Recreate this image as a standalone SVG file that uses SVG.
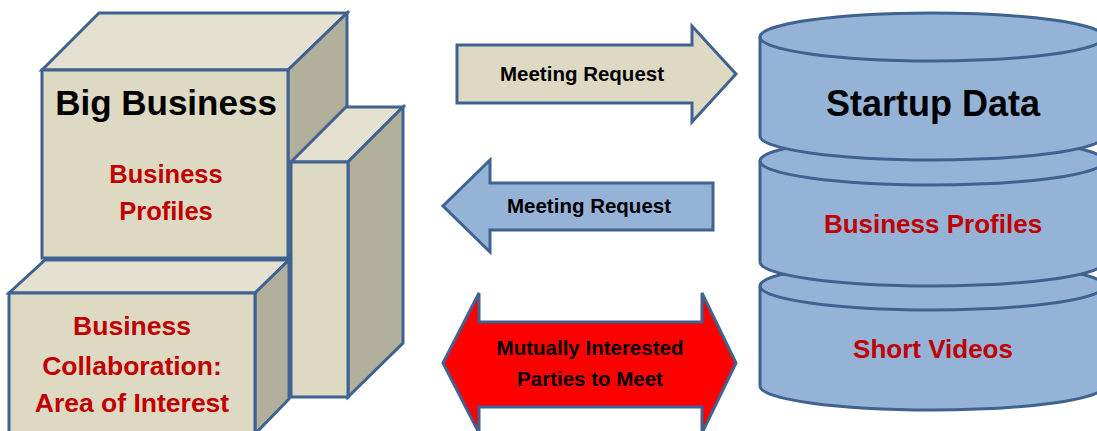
<svg xmlns="http://www.w3.org/2000/svg" width="1097" height="431" viewBox="0 0 1097 431">
<style>
.edge{stroke:#3f6290;stroke-width:3;stroke-linejoin:miter}
.front{fill:#ddd9c3}
.top{fill:#e4e1d1}
.side{fill:#b2af9b}
.cyl{fill:#95b3d7;stroke:#3f6290;stroke-width:3}
.t{font-family:"Liberation Sans",Arial,sans-serif;font-weight:bold;text-anchor:middle}
.blk{fill:#000}
.red{fill:#c00000}
</style>
<rect width="1097" height="431" fill="#fff"/>
<g id="big-business">
<polygon class="edge top" points="42,70 99,13 347,13 288,70"/>
<polygon class="edge side" points="288,70 347,13 347,201 288,258"/>
<rect class="edge front" x="42" y="70" width="246" height="188"/>
<text class="t blk" x="166" y="115" font-size="35">Big Business</text>
<text class="t red" x="166" y="183" font-size="25.5">Business</text>
<text class="t red" x="166" y="220" font-size="25.5">Profiles</text>
</g>
<g id="tall-box">
<polygon class="edge top" points="291,162 346,107 403,107 348,162"/>
<polygon class="edge side" points="348,162 403,107 403,343 348,397"/>
<rect class="edge front" x="291" y="162" width="57" height="235"/>
</g>
<g id="collaboration">
<polygon class="edge top" points="9,293 45,260 289,260 255,293"/>
<polygon class="edge side" points="255,293 289,260 289,399 255,434"/>
<rect class="edge front" x="9" y="293" width="246" height="145"/>
<text class="t red" x="132" y="335" font-size="26.5">Business</text>
<text class="t red" x="132" y="375" font-size="26.5">Collaboration:</text>
<text class="t red" x="132" y="412" font-size="26.5">Area of Interest</text>
</g>
<g id="startup-data">
<path class="cyl" d="M760,286 L760,386 A172,24 0 0 0 1104,386 L1104,286 A172,24 0 0 0 760,286 Z"/>
<path d="M760,286 A172,24 0 0 0 1104,286" fill="none" stroke="#3f6290" stroke-width="3"/>
<path class="cyl" d="M760,161 L760,262 A172,24 0 0 0 1104,262 L1104,161 A172,24 0 0 0 760,161 Z"/>
<path d="M760,161 A172,24 0 0 0 1104,161" fill="none" stroke="#3f6290" stroke-width="3"/>
<path class="cyl" d="M760,37 L760,136 A172,24 0 0 0 1104,136 L1104,37 A172,24 0 0 0 760,37 Z"/>
<path d="M760,37 A172,24 0 0 0 1104,37" fill="none" stroke="#3f6290" stroke-width="3"/>
<text class="t blk" x="933" y="116" font-size="36">Startup Data</text>
<text class="t red" x="933" y="233" font-size="26">Business Profiles</text>
<text class="t red" x="933" y="358" font-size="26">Short Videos</text>
</g>
<g id="connectors">
<g id="arrow-request-right">
<polygon class="edge" fill="#ddd9c3" points="457,45 692,45 692,26 736,74 692,122 692,103 457,103"/>
<text class="t blk" x="582" y="81" font-size="20.5">Meeting Request</text>
</g>
<g id="arrow-request-left">
<polygon class="edge" fill="#95b3d7" points="713,183 490,183 490,160 443,206 490,252 490,230 713,230"/>
<text class="t blk" x="589" y="213" font-size="20.5">Meeting Request</text>
</g>
<g id="arrow-mutual">
<polygon class="edge" fill="#ff0000" points="443,363 479,293 479,322 702,322 702,293 736,363 702,433 702,407 479,407 479,433"/>
<text class="t blk" x="590" y="355" font-size="20.5">Mutually Interested</text>
<text class="t blk" x="590" y="386" font-size="20.5">Parties to Meet</text>
</g>
</g>
</svg>
